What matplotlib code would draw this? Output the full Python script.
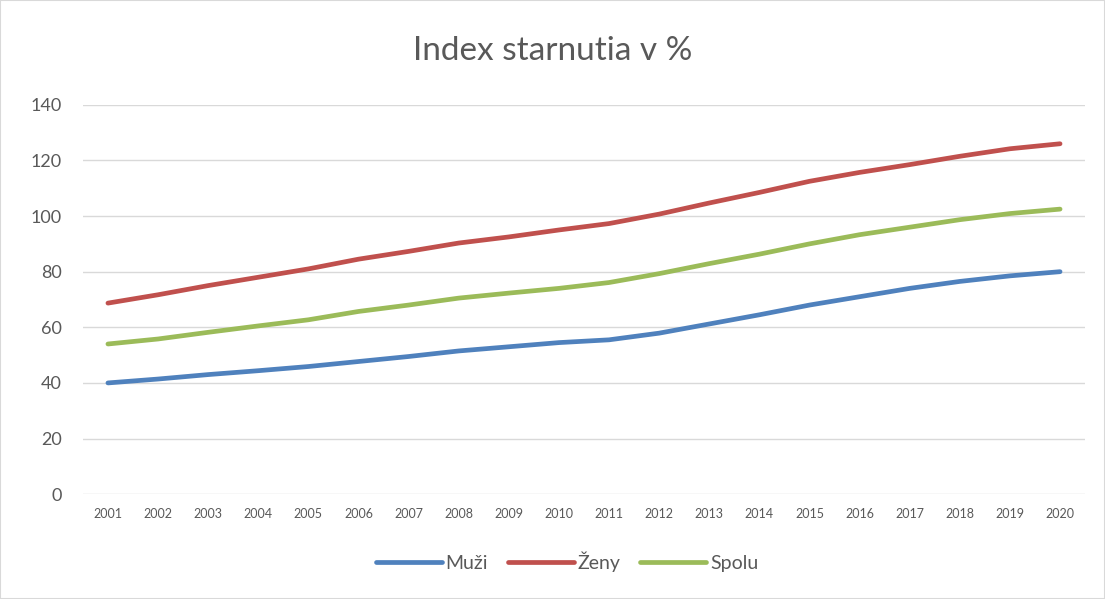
import matplotlib.pyplot as plt
from matplotlib.patches import Rectangle

roky = list(range(2001, 2021))
muzi = [40.0, 41.4, 43.0, 44.4, 45.9, 47.7, 49.5, 51.5, 53.0, 54.5,
        55.5, 57.9, 61.2, 64.5, 68.0, 71.0, 74.0, 76.5, 78.5, 80.0]
zeny = [68.7, 71.7, 75.0, 78.0, 81.0, 84.5, 87.3, 90.3, 92.5, 95.0,
        97.3, 100.7, 104.7, 108.5, 112.5, 115.7, 118.5, 121.5, 124.2, 126.0]
spolu = [54.0, 55.8, 58.2, 60.5, 62.7, 65.7, 68.0, 70.5, 72.3, 74.0,
         76.1, 79.3, 82.9, 86.3, 90.0, 93.3, 96.0, 98.7, 100.9, 102.5]
y_ticks = [0, 20, 40, 60, 80, 100, 120, 140]

plt.rcParams['font.family'] = ['Lato', 'DejaVu Sans']
seda = '#595959'

fig = plt.figure(figsize=(11.05, 5.99), dpi=100)
ax = fig.add_axes([0.075, 0.175, 0.907, 0.65])

ax.plot(roky, muzi, color='#4F81BD', lw=3.4, label='Muži', solid_capstyle='round')
ax.plot(roky, zeny, color='#C0504D', lw=3.4, label='Ženy', solid_capstyle='round')
ax.plot(roky, spolu, color='#9BBB59', lw=3.4, label='Spolu', solid_capstyle='round')

ax.set_xlim(2000.5, 2020.5)
ax.set_ylim(0, 140)
ax.set_xticks(roky)
ax.set_xticklabels([str(r) for r in roky], fontsize=9, color=seda)
ax.set_yticks(y_ticks)
ax.set_yticklabels([str(v) for v in y_ticks], fontsize=13, color=seda)
ax.tick_params(length=0, pad=10)
ax.tick_params(axis='y', pad=15)
ax.grid(axis='y', color='#D9D9D9', lw=1)
ax.set_axisbelow(True)
for s in ax.spines.values():
    s.set_visible(False)

fig.suptitle('Index starnutia v %', y=0.94, fontsize=24, color=seda)
fig.legend(loc='center', bbox_to_anchor=(0.513, 0.062), ncol=3, frameon=False,
           fontsize=14, labelcolor=seda, handlelength=3.4, handletextpad=0.2,
           columnspacing=1.0)

fig.patches.append(Rectangle((0, 0), 1, 1, transform=fig.transFigure,
                             fill=False, edgecolor='#D9D9D9', lw=1.5))

fig.savefig('out.png', dpi=100)
